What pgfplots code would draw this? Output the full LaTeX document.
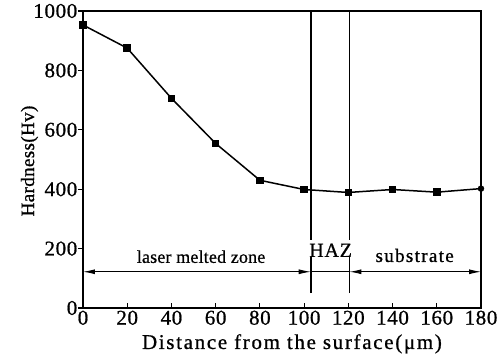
\documentclass[border=0pt]{standalone}
\usepackage{pgfplots}
\pgfplotsset{compat=1.18}
\usepackage{fontspec}
\setmainfont{Liberation Serif}
\newfontfamily\tickfont{Liberation Serif}[LetterSpace=3,FakeBold=0.8]
\newfontfamily\labfont{Liberation Serif}[LetterSpace=8,FakeBold=0.8]
\newfontfamily\ylabfont{Liberation Serif}[LetterSpace=2,FakeBold=0.8]
\newfontfamily\annfont{Liberation Serif}[LetterSpace=1,FakeBold=0.8]
\newfontfamily\subfont{Liberation Serif}[LetterSpace=7,FakeBold=0.8]
\newfontfamily\hazfont{Liberation Serif}[LetterSpace=4,FakeBold=0.8]
\usetikzlibrary{arrows.meta}
\begin{document}
\begin{tikzpicture}
\begin{axis}[
  scale only axis,
  width=398pt, height=297pt,
  xmin=0, xmax=180, ymin=0, ymax=1000,
  xtick={0,20,...,180}, ytick={0,200,...,1000},
  axis line style={line width=1.6pt},
  tick style={line width=1.2pt, black},
  major tick length=5pt,
  xtick pos=bottom, ytick pos=left,
  xtick align=inside, ytick align=outside,
  /pgf/number format/assume math mode=true,
  /pgf/number format/1000 sep={},
  tick label style={font=\tickfont\fontsize{21}{21}\selectfont},
  yticklabel style={inner xsep=0.5pt},
  xticklabel style={inner ysep=2.5pt},
  xlabel={Distance from the surface(μm)},
  ylabel={Hardness(Hv)},
  xlabel style={font=\labfont\fontsize{21}{21}\selectfont, at={(axis description cs:0.525,-0.138)}, anchor=base},
  ylabel style={font=\ylabfont\fontsize{19}{19}\selectfont, at={(axis description cs:-0.123,0.495)}, anchor=base},
  clip=false,
]
\addplot[black, line width=1.5pt, mark=square*, mark size=3pt, mark indices={1,...,9}] coordinates {
(0,953) (20,875) (40,706) (60,554) (80,430) (100,399) (120,389) (140,399) (160,390) (180,402)};
\addplot[black, only marks, mark=*, mark size=3pt] coordinates {(180,402)};
\addplot[black, line width=1.6pt] coordinates {(103,50) (103,172)};
\addplot[black, line width=1.6pt] coordinates {(103,230) (103,1000)};
\addplot[black, line width=1.6pt] coordinates {(120.5,50) (120.5,172)};
\addplot[black, line width=1.6pt] coordinates {(120.5,230) (120.5,1000)};
\addplot[black, line width=0.9pt, {Latex[length=12pt,width=5pt]}-{Latex[length=12pt,width=5pt]}] coordinates {(0,122) (103,122)};
\addplot[black, line width=0.9pt] coordinates {(103,122) (120.5,122)};
\addplot[black, line width=0.9pt, {Latex[length=12pt,width=5pt]}-{Latex[length=12pt,width=5pt]}] coordinates {(120.5,122) (180,122)};
\node[font=\annfont\fontsize{18}{18}\selectfont, anchor=base] at (axis cs:53.4,152) {laser melted zone};
\node[font=\hazfont\fontsize{20}{20}\selectfont, anchor=base] at (axis cs:112,172) {HAZ};
\node[font=\subfont\fontsize{19}{19}\selectfont, anchor=base] at (axis cs:150,155) {substrate};
\end{axis}
\pgfresetboundingbox
\path[use as bounding box] (-83pt,-50pt) rectangle (414pt,308pt);
\end{tikzpicture}
\end{document}
